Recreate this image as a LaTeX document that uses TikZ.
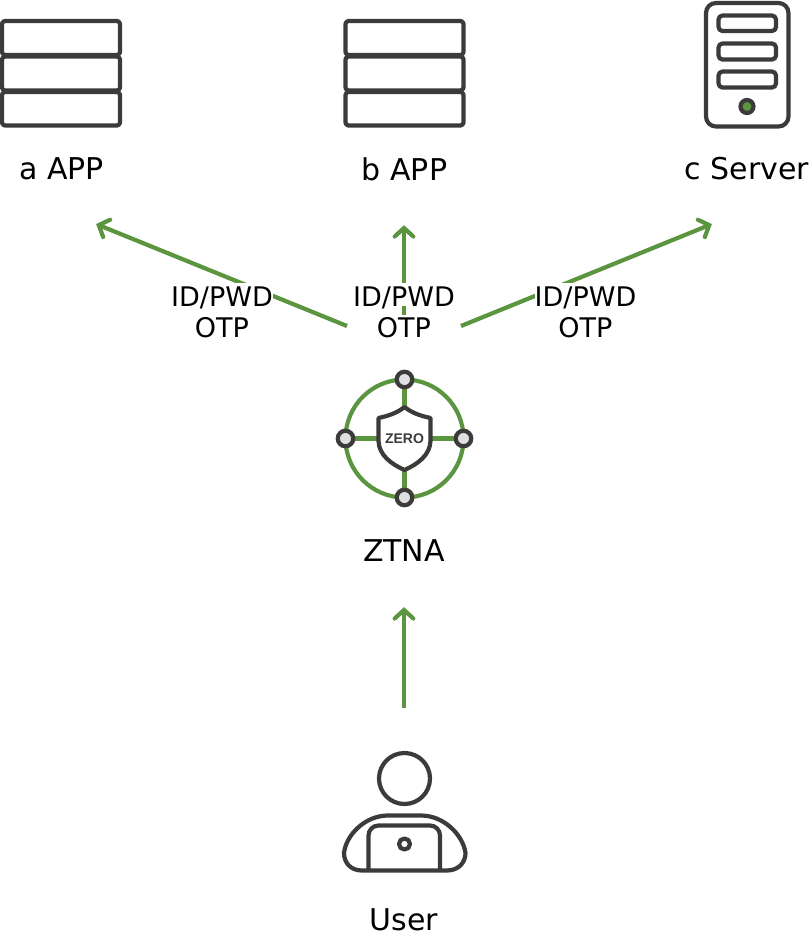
\documentclass[tikz,border=0pt]{standalone}
\usepackage{fontspec}
\setmainfont{DejaVu Sans}
\newfontfamily\zerofont{Liberation Sans}
\usetikzlibrary{arrows.meta}
\pgfdeclarearrow{
  name=OpenChevron,
  setup code={
    \pgfarrowssettipend{0pt}
    \pgfarrowssetlineend{-3pt}
    \pgfarrowssetbackend{-13pt}
    \pgfarrowssetvisualbackend{-3pt}
  },
  drawing code={
    \pgfsetdash{}{0pt}
    \pgfsetlinewidth{4.2pt}
    \pgfsetroundcap
    \pgfsetmiterjoin
    \pgfpathmoveto{\pgfqpoint{-11.5pt}{9.3pt}}
    \pgfpathlineto{\pgfqpoint{-3pt}{0pt}}
    \pgfpathlineto{\pgfqpoint{-11.5pt}{-9.3pt}}
    \pgfusepathqstroke
  },
}
\definecolor{icondark}{HTML}{3D3A3A}
\definecolor{flowgreen}{HTML}{5B9540}
\definecolor{dotgrey}{HTML}{DFE0E0}
\tikzset{
  iconline/.style={draw=icondark,line width=4.2pt,line join=round},
  greenline/.style={draw=flowgreen,line width=4.2pt},
  flow/.style={greenline,-OpenChevron},
  caption/.style={inner sep=0pt,font=\fontsize{30}{34}\selectfont,text=black},
  authfirst/.style={anchor=base,fill=white,inner sep=0pt,text height=23.5pt,text depth=-4.5pt,font=\fontsize{27}{30}\selectfont,text=black},
  authsecond/.style={anchor=base,fill=white,inner sep=0pt,text height=22.5pt,text depth=7.5pt,font=\fontsize{27}{30}\selectfont,text=black},
  hub/.style={circle,draw=icondark,line width=4.2pt,fill=dotgrey,minimum size=15.5pt,inner sep=0pt},
}
\newcommand{\stackicon}[1]{%
  \foreach \ya/\yb in {21/55,56.5/90.5,92/125.5}{
    \draw[iconline,rounded corners=3pt] (#1-59,\ya) rectangle (#1+59,\yb);
  }
}
\begin{document}
\begin{tikzpicture}[x=1pt,y=-1pt]
\useasboundingbox (0,0) rectangle (810,940);
% application icons
\stackicon{61}
\stackicon{404.5}
% server icon
\draw[iconline,rounded corners=10pt] (706,3) rectangle (788.5,126.5);
\foreach \ya/\yb in {15.5/31,43.5/59.5,71.5/87.5}{
  \draw[iconline,rounded corners=4pt] (718.5,\ya) rectangle (776,\yb);
}
\node[circle,draw=icondark,line width=4.2pt,fill=flowgreen,minimum size=13pt,inner sep=0pt] (led) at (747,106.5) {};
% captions
\node[caption] (aapp) at (61.5,169) {a APP};
\node[caption] (bapp) at (404.5,169) {b APP};
\node[caption] (cserver) at (747,169) {c Server};
\node[caption] (ztna) at (404,551) {ZTNA};
\node[caption] (user) at (404,920) {User};
% connector ends
\coordinate (fromL) at (347,326);
\coordinate (fromM) at (404,326);
\coordinate (fromR) at (461,326);
\coordinate (toA) at (96,224);
\coordinate (toB) at (404,225);
\coordinate (toC) at (712,224);
\coordinate (fromU) at (404,708);
\coordinate (toZ) at (404,607);
\draw[flow] (fromL) -- (toA);
\draw[flow] (fromM) -- (toB);
\draw[flow] (fromR) -- (toC);
\draw[flow] (fromU) -- (toZ);
% labels
\node[authfirst] (l1a) at (222,306) {ID/PWD};
\node[authsecond] (l1b) at (222,337.5) {OTP};
\node[authfirst] (l2a) at (404,306) {ID/PWD};
\node[authsecond] (l2b) at (404,337.5) {OTP};
\node[authfirst] (l3a) at (585.5,306) {ID/PWD};
\node[authsecond] (l3b) at (585.5,337.5) {OTP};
% ZTNA icon
\coordinate (zc) at (404.5,438.5);
\coordinate (st) at (404.5,407);
\coordinate (sb) at (404.5,470);
\coordinate (sl) at (378.5,438.5);
\coordinate (sr) at (430.5,438.5);
\coordinate (pt) at (404.5,379.5);
\coordinate (pb) at (404.5,497.5);
\coordinate (pl) at (345.5,438.5);
\coordinate (pr) at (463.5,438.5);
\draw[greenline] (zc) circle[radius=59];
\draw[greenline] (pt) -- (st);
\draw[greenline] (pb) -- (sb);
\draw[greenline] (pl) -- (sl);
\draw[greenline] (pr) -- (sr);
\node[hub] (ht) at (pt) {};
\node[hub] (hb) at (pb) {};
\node[hub] (hl) at (pl) {};
\node[hub] (hr) at (pr) {};
\draw[iconline,fill=white] (st) .. controls (397,413) and (388,416) .. (378.5,418) -- (378.5,441)
  .. controls (379,455) and (391,464) .. (sb) .. controls (418,464) and (430,455) .. (430.5,441)
  -- (430.5,418) .. controls (421,416) and (412,413) .. (st) -- cycle;
\node[inner sep=0pt,text=icondark,font=\zerofont\bfseries\fontsize{14}{16}\selectfont] (zero) at (404.5,438.5) {ZERO};
% user icon
\draw[iconline] (404.5,778.5) circle[radius=25.5];
\draw[iconline] (362,870.5) .. controls (350,870.5) and (344,862) .. (344,853)
  .. controls (346,835) and (365,815.5) .. (388,815.5) -- (421,815.5)
  .. controls (444,815.5) and (463,835) .. (465.5,853)
  .. controls (465.5,862) and (459,870.5) .. (447,870.5) -- cycle;
\draw[iconline,rounded corners=10pt] (368.5,870.5) -- (368.5,825.5) -- (440,825.5) -- (440,870.5);
\draw[iconline] (404.5,844) circle[radius=5.5];
\end{tikzpicture}
\end{document}
